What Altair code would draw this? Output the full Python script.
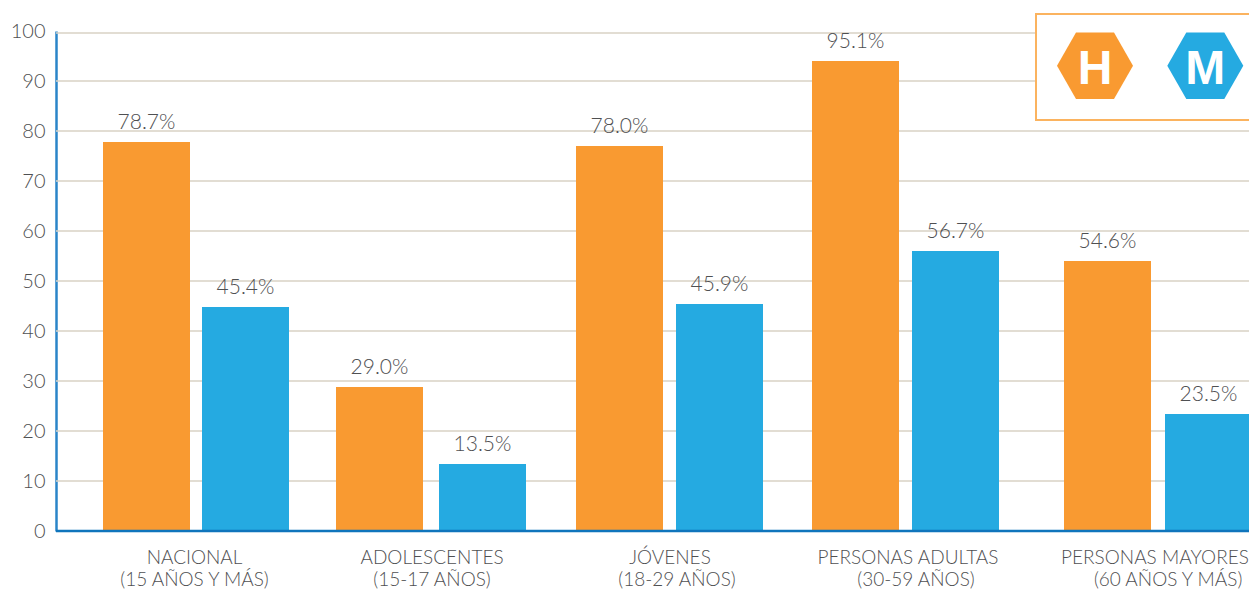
import altair as alt
import pandas as pd

labels = ["78.7%", "45.4%", "29.0%", "13.5%", "78.0%", "45.9%", "95.1%", "56.7%", "54.6%", "23.5%"]
heights = [77.8, 44.8, 28.8, 13.4, 77.0, 45.4, 94.0, 56.0, 54.0, 23.4]
sexes = ["H", "M"] * 5
bar_index = list(range(10))
group_line1 = ["NACIONAL", "ADOLESCENTES", "JÓVENES", "PERSONAS ADULTAS", "PERSONAS MAYORES"]
group_line2 = ["(15 AÑOS Y MÁS)", "(15-17 AÑOS)", "(18-29 AÑOS)", "(30-59 AÑOS)", "(60 AÑOS Y MÁS)"]
line1_index = [0.485, 2.51, 4.505, 6.525, 8.47]
line2_index = [0.485, 2.51, 4.575, 6.605, 8.6]
grid_values = [10, 20, 30, 40, 50, 60, 70, 80, 90, 99.6]
baseline_value = [0]

FONT = "Lato"
INK = "#4f5052"
OX, OY = 56, 31
TOTAL_W, TOTAL_H = 1241, 583
W, H = TOTAL_W - (OX - 8), 500
ORANGE, BLUE = "#f99a31", "#25aae1"

df = pd.DataFrame({"i": bar_index, "v": heights, "label": labels, "sex": sexes})
g1 = pd.DataFrame({"i": line1_index, "t": group_line1})
g2 = pd.DataFrame({"i": line2_index, "t": group_line2})
gr = pd.DataFrame({"v": grid_values})
bl = pd.DataFrame({"v": baseline_value})

centers = [146.5, 245.5, 379.5, 482.5, 619.5, 719.5, 855.5, 955.5, 1107.5, 1208.5]
xscale = alt.Scale(domain=[-1] + bar_index + [10], range=[0] + [c - OX for c in centers] + [W])
yenc = alt.Y("v:Q", scale=alt.Scale(domain=[0, 100]),
             axis=alt.Axis(values=list(range(0, 101, 10)), title=None, ticks=False,
                           grid=False,
                           domainColor="#2a85c8", domainWidth=2.5,
                           labelFont=FONT, labelFontSize=20, labelFontWeight=300,
                           labelColor=INK, labelPadding=11))
xplain = alt.X("i:Q", scale=xscale, axis=None)

grid = alt.Chart(gr).mark_rule(color="#d9d2c4", strokeWidth=1.4).encode(y=alt.Y("v:Q"))
bars = alt.Chart(df).mark_bar(width=87).encode(
    x=xplain, y=yenc,
    color=alt.Color("sex:N", scale=alt.Scale(domain=["H", "M"], range=[ORANGE, BLUE]), legend=None),
)
baseline = alt.Chart(bl).mark_rule(color="#0f75bc", strokeWidth=2.5).encode(y=alt.Y("v:Q"))
values = alt.Chart(df).mark_text(font=FONT, fontSize=21, fontWeight=300, color=INK, baseline="alphabetic", dy=-13).encode(
    x=xplain, y=alt.Y("v:Q"), text="label:N"
)
cat1 = alt.Chart(g1).mark_text(font=FONT, fontSize=19, fontWeight=300, color=INK).encode(
    x=xplain, y=alt.value(558 - OY), text="t:N"
)
cat2 = alt.Chart(g2).mark_text(font=FONT, fontSize=19, fontWeight=300, color=INK).encode(
    x=xplain, y=alt.value(580 - OY), text="t:N"
)

box = alt.Chart(pd.DataFrame({"a": [0]})).mark_rect(fill="white", stroke="#fbb35f", strokeWidth=2).encode(
    x=alt.value(1036 - OX), x2=alt.value(1290 - OX), y=alt.value(14 - OY), y2=alt.value(120 - OY)
)
HEX = "M-1,0L-0.5,-0.875L0.5,-0.875L1,0L0.5,0.875L-0.5,0.875Z"
legend_layers = []
for letter, px, col in [("H", 1095, ORANGE), ("M", 1205.3, BLUE)]:
    d = pd.DataFrame({"t": [letter]})
    legend_layers.append(alt.Chart(d).mark_point(shape=HEX, filled=True, opacity=1, size=5776, color=col).encode(
        x=alt.value(px - OX), y=alt.value(65.7 - OY)))
    legend_layers.append(alt.Chart(d).mark_text(font="Liberation Sans", fontWeight="bold", fontSize=48, color="white", baseline="alphabetic").encode(
        x=alt.value(px - OX), y=alt.value(84 - OY), text="t:N"))

chart = alt.layer(grid, bars, baseline, values, cat1, cat2, box, *legend_layers).properties(
    width=W, height=H,
    padding={"left": OX - 8, "top": OY - 8, "right": 0, "bottom": TOTAL_H - (OY - 8) - H},
    autosize=alt.AutoSizeParams(type="none"),
).configure_view(stroke=None)

chart.save("out.html", embed_options={"renderer": "svg", "actions": False})
